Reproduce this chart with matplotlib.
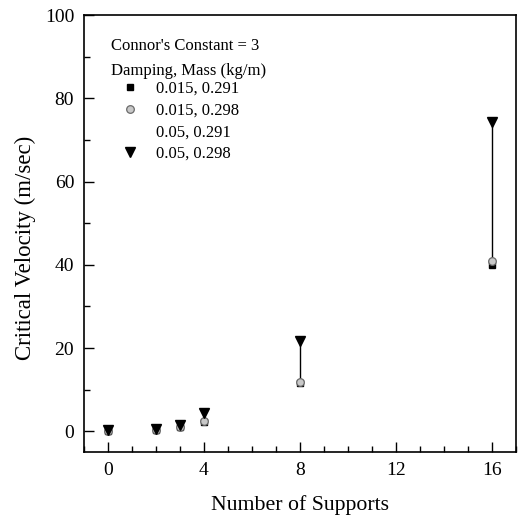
import matplotlib.pyplot as plt
from matplotlib.ticker import MultipleLocator
import numpy as np

plt.rcParams['font.family'] = ['Liberation Serif', 'DejaVu Serif']

# number of supports and critical velocity (m/sec) for each damping/mass case
supports = np.array([0, 2, 3, 4, 8, 16])
v_015_291 = np.array([0.0, 0.3, 1.0, 2.2, 11.5, 40.0])
v_015_298 = np.array([0.1, 0.4, 1.1, 2.4, 11.9, 40.8])
v_05_291 = np.array([0.1, 0.5, 1.4, 4.0, 21.0, 73.6])
v_05_298 = np.array([0.2, 0.5, 1.5, 4.3, 21.6, 74.3])

labels = ["0.015, 0.291", "0.015, 0.298", "0.05, 0.291", "0.05, 0.298"]

fig = plt.figure(figsize=(5.18, 5.19), dpi=100)
ax = fig.add_axes([0.162, 0.129, 0.834, 0.842])

# spread between lowest and highest case at each support count
lo = np.minimum.reduce([v_015_291, v_015_298, v_05_291, v_05_298])
hi = np.maximum.reduce([v_015_291, v_015_298, v_05_291, v_05_298])
ax.vlines(supports, lo, hi, colors="black", linewidth=1.0, zorder=1)

ax.plot(supports, v_015_291, ls="none", marker="s", ms=5, color="black",
        label=labels[0], zorder=2)
ax.plot(supports, v_015_298, ls="none", marker="o", ms=5.5, mfc="#c8c8c8",
        mec="#6a6a6a", mew=0.9, label=labels[1], zorder=3)
ax.plot(supports, v_05_291, ls="none", marker="none", color="black",
        label=labels[2], zorder=2)
ax.plot(supports, v_05_298, ls="none", marker="v", ms=7.5, color="black",
        label=labels[3], zorder=4)

ax.set_xlim(-1, 17)
ax.set_ylim(-5, 100)
ax.xaxis.set_major_locator(MultipleLocator(4))
ax.xaxis.set_minor_locator(MultipleLocator(1))
ax.yaxis.set_major_locator(MultipleLocator(20))
ax.yaxis.set_minor_locator(MultipleLocator(10))
ax.tick_params(which="both", direction="in", top=False, right=False,
               labelsize=14, width=1.0)
ax.tick_params(which="major", length=7, pad=7)
ax.tick_params(which="minor", length=4)
for s in ax.spines.values():
    s.set_linewidth(1.2)

ax.set_xlabel("Number of Supports", fontsize=15.7, labelpad=12)
ax.set_ylabel("Critical Velocity (m/sec)", fontsize=16.5)
ax.yaxis.set_label_coords(-0.112, 0.467)

leg = ax.legend(title="Connor's Constant = 3\nDamping, Mass (kg/m)",
                loc="upper left", bbox_to_anchor=(0.04, 0.97),
                frameon=False, fontsize=12, title_fontsize=12,
                handlelength=2.3, handletextpad=0.4, labelspacing=0.35,
                alignment="left", borderaxespad=0.2)
leg.get_title().set_linespacing(1.75)
leg._legend_box.sep = 1

fig.savefig("out.png", dpi=100)
